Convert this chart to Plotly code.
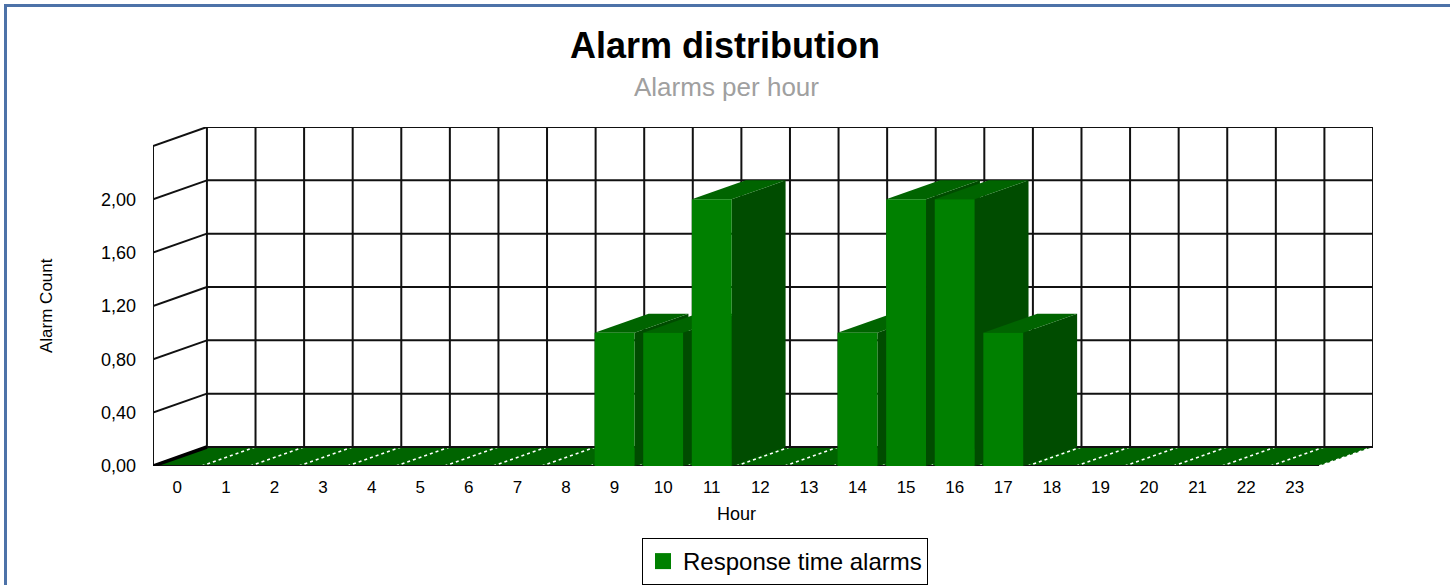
import plotly.graph_objects as go

# ---------------- data ----------------
hours = [0, 1, 2, 3, 4, 5, 6, 7, 8, 9, 10, 11, 12, 13, 14, 15, 16, 17, 18, 19, 20, 21, 22, 23]
hour_labels = ["0", "1", "2", "3", "4", "5", "6", "7", "8", "9", "10", "11",
               "12", "13", "14", "15", "16", "17", "18", "19", "20", "21", "22", "23"]
alarm_counts = [0, 0, 0, 0, 0, 0, 0, 0, 0, 1, 1, 2, 0, 0, 1, 2, 2, 1, 0, 0, 0, 0, 0, 0]
y_tick_values = [0.0, 0.4, 0.8, 1.2, 1.6, 2.0]
y_wall_top = 2.4
series_name = "Response time alarms"

# ---------------- style ----------------
DEPTH_X = 1.11      # 3D depth offset (category units)
DEPTH_Y = 0.1425    # 3D depth offset (value units)
HALF = 0.41         # half bar width
FRONT = "#008000"
SIDE = "#004c00"
TOP = "#006400"
GRID = "#111111"
FONT = "Liberation Sans, Arial, sans-serif"

W, H = 1450, 585
L, R, T, B = 153, 77, 127, 119
PW, PH = W - L - R, H - T - B


def px_x(px):
    return (px - L) / PW


def px_y(py):
    return (H - B - py) / PH


x_left = hours[0] - 0.5
x_right = hours[-1] + 0.5

fig = go.Figure()


def lines(xs, ys, color, width, dash="solid"):
    return go.Scatter(x=xs, y=ys, mode="lines", line=dict(color=color, width=width, dash=dash),
                      hoverinfo="skip", showlegend=False)


def poly(xs, ys, color):
    return go.Scatter(x=xs, y=ys, mode="lines", fill="toself", fillcolor=color,
                      line=dict(width=0, color=color), hoverinfo="skip", showlegend=False)


grid_levels = y_tick_values + [y_wall_top]

# back wall grid
gx, gy = [], []
for v in grid_levels:
    gx += [x_left + DEPTH_X, x_right + DEPTH_X, None]
    gy += [v + DEPTH_Y, v + DEPTH_Y, None]
for b in [h - 0.5 for h in hours] + [x_right]:
    gx += [b + DEPTH_X, b + DEPTH_X, None]
    gy += [DEPTH_Y, y_wall_top + DEPTH_Y, None]
# left wall diagonals + front vertical
for v in grid_levels:
    gx += [x_left, x_left + DEPTH_X, None]
    gy += [v, v + DEPTH_Y, None]
gx += [x_left, x_left, None]
gy += [0, y_wall_top, None]
fig.add_trace(lines(gx, gy, GRID, 2))

# floor
fig.add_trace(poly([x_left, x_right, x_right + DEPTH_X, x_left + DEPTH_X, x_left],
                   [0, 0, DEPTH_Y, DEPTH_Y, 0], TOP))
fx, fy = [], []
for h in hours:
    fx += [h + 0.5, h + 0.5 + DEPTH_X, None]
    fy += [0, DEPTH_Y, None]
fig.add_trace(lines(fx, fy, "white", 1.5, "dot"))
fig.add_trace(lines([x_left, x_right, None, x_left + DEPTH_X, x_right + DEPTH_X],
                    [0, 0, None, DEPTH_Y, DEPTH_Y], GRID, 2))
fig.add_trace(lines([x_left, x_left + DEPTH_X], [0, DEPTH_Y], "black", 3.5))

# bars (painter's order, left to right)
front_x, front_y = [], []
for h, v in zip(hours, alarm_counts):
    if v <= 0:
        continue
    fig.add_trace(poly([h + HALF, h + HALF, h + HALF + DEPTH_X, h + HALF + DEPTH_X, h + HALF],
                       [0, v, v + DEPTH_Y, DEPTH_Y, 0], SIDE))
    fig.add_trace(poly([h - HALF, h + HALF, h + HALF + DEPTH_X, h - HALF + DEPTH_X, h - HALF],
                       [v, v, v + DEPTH_Y, v + DEPTH_Y, v], TOP))
    front_x += [h - HALF, h + HALF, h + HALF, h - HALF, h - HALF, None]
    front_y += [0, 0, v, v, 0, None]
fig.add_trace(poly(front_x, front_y, FRONT))

# legend carrier
fig.add_trace(go.Scatter(x=[None], y=[None], mode="markers", name=series_name,
                         marker=dict(symbol="square", size=16, color=FRONT),
                         showlegend=True))

fig.update_layout(
    width=W, height=H, autosize=False,
    margin=dict(l=L, r=R, t=T, b=B, autoexpand=False),
    paper_bgcolor="white", plot_bgcolor="white",
    separators=",.",
    font=dict(family=FONT, color="black"),
    title=dict(text="<b>Alarm distribution</b>", x=0.5, xref="container", xanchor="center",
               y=1 - 45 / H, yref="container", yanchor="middle",
               font=dict(family=FONT, size=36, color="black")),
    xaxis=dict(range=[x_left, x_right + DEPTH_X], tickvals=hours, ticktext=hour_labels,
               showgrid=False, zeroline=False, showline=False, ticks="",
               tickfont=dict(size=17), ticklabelstandoff=9, fixedrange=True),
    yaxis=dict(range=[0, y_wall_top + DEPTH_Y], tickvals=y_tick_values, tickformat=".2f",
               showgrid=False, zeroline=False, showline=False, ticks="",
               tickfont=dict(size=18), ticklabelstandoff=16, fixedrange=True),
    showlegend=True,
    legend=dict(orientation="h", x=px_x(785), xanchor="center",
                y=px_y(538), yanchor="top", bordercolor="black", borderwidth=1,
                bgcolor="white", font=dict(size=24)),
)

fig.add_annotation(text="Alarms per hour", xref="paper", yref="paper",
                   x=px_x(726), y=px_y(87), xanchor="center", yanchor="middle",
                   showarrow=False, font=dict(family=FONT, size=26, color="#a0a0a0"))
fig.add_annotation(text="Hour", xref="x", yref="paper", x=(hours[0] + hours[-1]) / 2,
                   y=px_y(514), xanchor="center", yanchor="middle",
                   showarrow=False, font=dict(family=FONT, size=18, color="black"))
fig.add_annotation(text="Alarm Count", xref="paper", yref="y", x=px_x(46),
                   y=y_wall_top / 2, xanchor="center", yanchor="middle", textangle=-90,
                   showarrow=False, font=dict(family=FONT, size=17, color="black"))

# outer frame
fig.add_shape(type="rect", xref="paper", yref="paper",
              x0=px_x(5.5), x1=px_x(W + 20), y0=px_y(H + 20), y1=px_y(5.5),
              line=dict(color="#4d72a8", width=3), layer="below")

fig.write_html("out.html", config={"displayModeBar": False},
               post_script="document.body.style.margin='0';document.body.style.padding='0';")
